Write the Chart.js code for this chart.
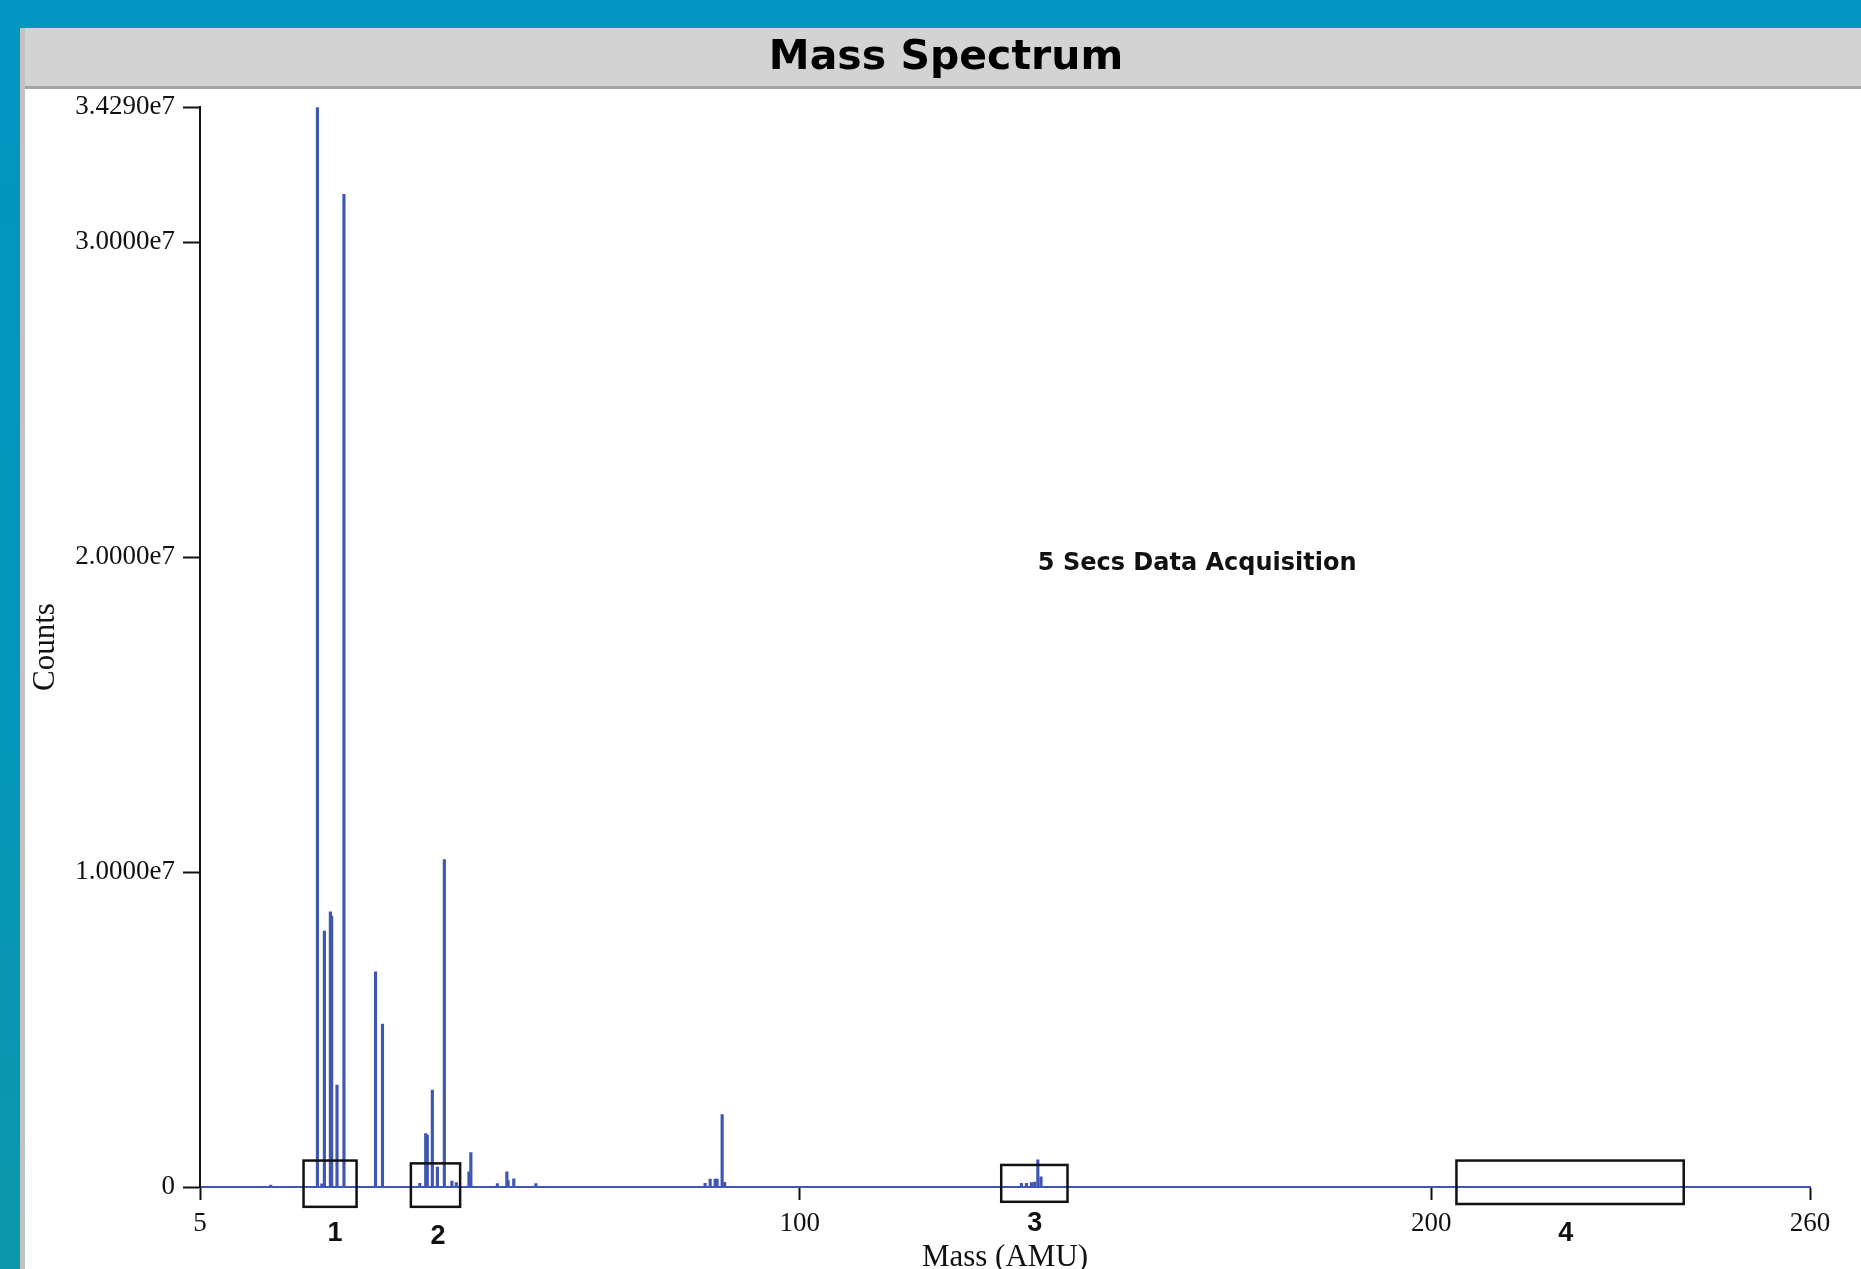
<!DOCTYPE html>
<html>
<head>
<meta charset="utf-8">
<title>Mass Spectrum</title>
<script src="https://cdn.jsdelivr.net/npm/chart.js@4.4.1/dist/chart.umd.min.js"></script>
<style>
  html, body {
    margin: 0;
    padding: 0;
    width: 1861px;
    height: 1269px;
    overflow: hidden;
    background: linear-gradient(to bottom, #0195c0 0%, #0396bb 55%, #0c98aa 100%);
  }
  #panel {
    position: absolute;
    left: 20px;
    top: 28px;
    width: 1847px;
    height: 1262px;
    background: #ffffff;
    border-left: 5px solid #c2c2c2;
    box-sizing: border-box;
  }
  #wrap {
    position: absolute;
    left: 0;
    top: 0;
    width: 1842px;
    height: 1262px;
  }
</style>
</head>
<body>
<div id="panel"><div id="wrap"><canvas id="spectrumChart"></canvas></div></div>
<script>
// peaks (mass in AMU, counts)
const masses = [16.2, 23.6, 24.3, 24.7, 25.65, 25.85, 26.7, 27.8, 32.8, 33.9,
                39.8, 40.75, 41.0, 41.8, 42.6, 43.7, 44.9, 45.6, 47.6, 47.9,
                52.1, 53.6, 53.8, 54.7, 58.2,
                85.0, 85.8, 86.6, 86.9, 87.7, 88.1,
                135.1, 135.9, 136.7, 137.2, 137.7, 138.2];
const counts = [0.06e6, 3.429e7, 0.10e6, 8.13e6, 8.74e6, 8.60e6, 3.24e6, 3.152e7, 6.83e6, 5.17e6,
                0.12e6, 1.70e6, 1.65e6, 3.08e6, 0.63e6, 1.04e7, 0.19e6, 0.14e6, 0.48e6, 1.09e6,
                0.11e6, 0.48e6, 0.20e6, 0.26e6, 0.11e6,
                0.12e6, 0.25e6, 0.25e6, 0.25e6, 2.30e6, 0.15e6,
                0.12e6, 0.12e6, 0.14e6, 0.16e6, 0.86e6, 0.32e6];

const xTicks = [5, 100, 200, 260];
const yTicks = [0, 1.0e7, 2.0e7, 3.0e7, 3.429e7];

// marked regions under the axis
const boxLabels = ['1', '2', '3', '4'];
const boxFrom   = [21.4, 38.4, 131.9, 204.0];
const boxTo     = [29.8, 46.2, 142.4, 240.0];
const boxTop    = [0.84e6, 0.75e6, 0.70e6, 0.84e6];
const boxBottom = [-0.63e6, -0.63e6, -0.47e6, -0.54e6];
const labelMass = [26.4, 42.7, 137.2, 221.3];
const labelY    = [-1.49e6, -1.56e6, -1.17e6, -1.49e6];

const note = { text: '5 Secs Data Acquisition', x: 137.7, y: 1.98e7 };

const blue = '#3f56b2';

const panelBg = {
    id: 'panelBg',
    beforeDraw(chart) {
        const ctx = chart.ctx;
        ctx.save();
        ctx.fillStyle = '#d3d3d3';
        ctx.fillRect(0, 0, chart.width, 58);
        ctx.fillStyle = '#a4a4a4';
        ctx.fillRect(0, 58, chart.width, 3);
        ctx.restore();
    }
};

const marks = {
    id: 'marks',
    afterDraw(chart) {
        const ctx = chart.ctx;
        const xs = chart.scales.x;
        const ys = chart.scales.y;
        ctx.save();
        ctx.strokeStyle = '#111111';
        ctx.lineWidth = 2.5;
        for (let i = 0; i < boxLabels.length; i++) {
            const x0 = xs.getPixelForValue(boxFrom[i]);
            const x1 = xs.getPixelForValue(boxTo[i]);
            const y0 = ys.getPixelForValue(boxTop[i]);
            const y1 = ys.getPixelForValue(boxBottom[i]);
            ctx.strokeRect(x0, y0, x1 - x0, y1 - y0);
        }
        ctx.fillStyle = '#111111';
        ctx.font = 'bold 27px "Liberation Sans", Arial, sans-serif';
        ctx.textAlign = 'center';
        ctx.textBaseline = 'middle';
        for (let i = 0; i < boxLabels.length; i++) {
            ctx.fillText(boxLabels[i], xs.getPixelForValue(labelMass[i]), ys.getPixelForValue(labelY[i]));
        }
        ctx.font = 'bold 24px "DejaVu Sans", sans-serif';
        ctx.textAlign = 'left';
        ctx.fillText(note.text, xs.getPixelForValue(note.x), ys.getPixelForValue(note.y));
        ctx.restore();
    }
};

const canvas = document.getElementById('spectrumChart');

new Chart(canvas.getContext('2d'), {
    type: 'bar',
    data: {
        datasets: [{
            label: 'Counts',
            data: masses.map((m, i) => ({ x: m, y: counts[i] })),
            backgroundColor: blue,
            borderWidth: 0,
            barThickness: 2.5
        }]
    },
    options: {
        responsive: true,
        maintainAspectRatio: false,
        animation: false,
        layout: { padding: { top: 0, left: 0, right: 0, bottom: 0 } },
        plugins: {
            legend: { display: false },
            tooltip: { enabled: false },
            title: {
                display: true,
                text: 'Mass Spectrum',
                color: '#000000',
                font: { family: '"DejaVu Sans", sans-serif', size: 41, weight: 'bold' },
                padding: { top: 6, bottom: 24 }
            }
        },
        scales: {
            x: {
                type: 'linear',
                min: 5,
                max: 260,
                offset: false,
                afterBuildTicks: s => { s.ticks = xTicks.map(v => ({ value: v })); },
                afterFit: s => { s.height = 103; },
                ticks: {
                    color: '#111111',
                    padding: 8,
                    maxRotation: 0,
                    font: { family: '"Liberation Serif", "Times New Roman", serif', size: 27 }
                },
                grid: { offset: false, drawOnChartArea: false, drawTicks: true, tickLength: 13, tickWidth: 2, color: '#111111' },
                border: { display: true, color: blue, width: 2 },
                title: {
                    display: true,
                    text: 'Mass (AMU)',
                    color: '#111111',
                    padding: { top: 0, bottom: 14 },
                    font: { family: '"Liberation Serif", "Times New Roman", serif', size: 31 }
                }
            },
            y: {
                type: 'linear',
                min: 0,
                max: 3.429e7,
                afterBuildTicks: s => { s.ticks = yTicks.map(v => ({ value: v })); },
                afterFit: s => { s.width = 175; },
                ticks: {
                    color: '#111111',
                    padding: 8,
                    font: { family: '"Liberation Serif", "Times New Roman", serif', size: 27 },
                    callback: v => v === 0 ? '0' : (v / 1e7).toFixed(4) + 'e7'
                },
                grid: { drawOnChartArea: false, drawTicks: true, tickLength: 17, tickWidth: 2, color: '#111111' },
                border: { display: true, color: '#111111', width: 2 },
                title: {
                    display: true,
                    text: 'Counts',
                    color: '#111111',
                    padding: { top: 2, bottom: 0 },
                    font: { family: '"Liberation Serif", "Times New Roman", serif', size: 31 }
                }
            },
            // empty right-hand box that keeps the plot clear of the panel edge
            yRight: {
                type: 'linear',
                position: 'right',
                display: true,
                ticks: { display: false },
                grid: { display: false, drawTicks: false },
                border: { display: false },
                afterFit: s => { s.width = 57; }
            }
        }
    },
    plugins: [panelBg, marks]
});
</script>
</body>
</html>
